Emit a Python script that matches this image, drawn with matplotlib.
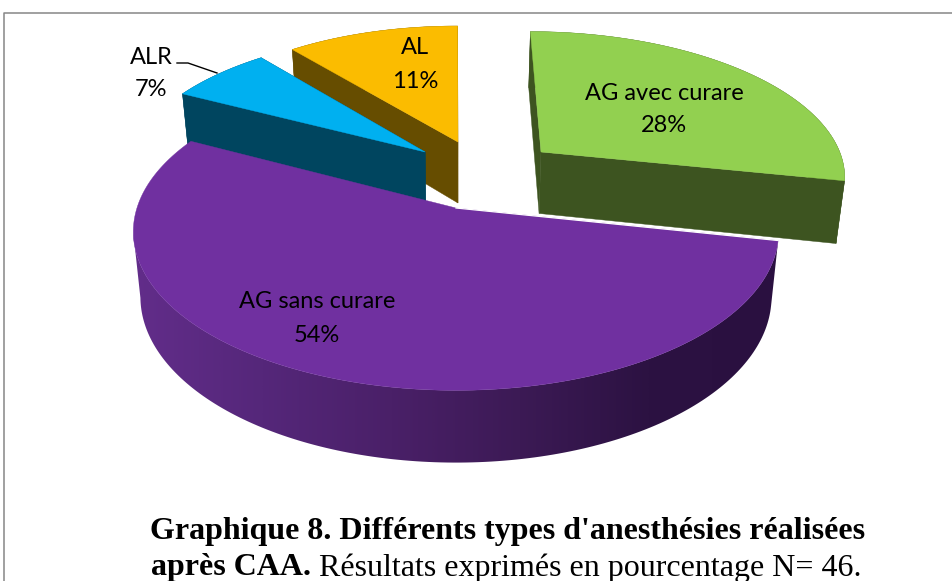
import numpy as np
import matplotlib.pyplot as plt
from matplotlib.colors import LinearSegmentedColormap
from matplotlib.patches import Polygon

labels = ["AG avec curare", "AG sans curare", "ALR", "AL"]
counts = [13, 25, 3, 5]  # N = 46, shown as rounded percentages

top_colors = ["#92d050", "#7030a0", "#00b0f0", "#fbbc00"]
side_colors = ["#3d5420", None, "#00455f", "#664d00"]
purple_wall = ["#622d8a", "#55277a", "#4a2068", "#3c1a55", "#2c1242", "#2a1040"]

# slice offsets in the pie plane (explosion) and slice radius
explode = [(0.285, 0.382), (0.003, 0.0), (-0.099, 0.382), (0.01, 0.455)]
radius = [0.99, 1.0, 0.97, 0.97]
label_pos = [(664, 93), (317, 302), (151, 57), (415, 48)]
draw_order = [3, 2, 0, 1]

# projection of the pie plane to pixels
cx, cy = 455, 208
rx, ry = 319, 155
k = 0.15
dz, dry, sx = 64, 7, 0.978


def project(u, v, bottom=False):
    w = 1 / (1 + k * v)
    if bottom:
        return cx + rx * sx * u * w, cy + dz - (ry + dry) * v * w
    return cx + rx * u * w, cy - ry * v * w


fig = plt.figure(figsize=(9.53, 5.81), dpi=100)
ax = fig.add_axes([0, 0, 1, 1])

# chart frame
ax.plot([4.5, 4.5, 953], [581, 13, 13], color="#868686", lw=1.1)

starts = np.cumsum([0] + counts[:-1]) / sum(counts) * 2 * np.pi
ends = np.cumsum(counts) / sum(counts) * 2 * np.pi

for i in draw_order:
    du, dv = explode[i]
    t = np.linspace(starts[i], ends[i], 200)
    u = du + radius[i] * np.sin(t)
    v = dv + radius[i] * np.cos(t)
    xt, yt = project(u, v)
    xb, yb = project(u, v, bottom=True)
    ax_, ay_ = project(du, dv)
    bx_, by_ = project(du, dv, bottom=True)

    if side_colors[i]:
        ax.fill(np.r_[xt, xb[::-1]], np.r_[yt, yb[::-1]], color=side_colors[i], lw=0.3)
        ax.fill([xt[0], ax_, bx_, xb[0]], [yt[0], ay_, by_, yb[0]], color=side_colors[i], lw=0.3)
        ax.fill([xt[-1], ax_, bx_, xb[-1]], [yt[-1], ay_, by_, yb[-1]], color=side_colors[i], lw=0.3)
    else:
        # purple wall: left to right gradient, only the part up to the left extreme shows
        n = np.argmin(xt) + 1
        cmap = LinearSegmentedColormap.from_list("wall", purple_wall)
        grad = np.linspace(0, 1, 512).reshape(1, -1)
        im = ax.imshow(grad, cmap=cmap, aspect="auto", interpolation="bilinear",
                       extent=[min(xt.min(), xb.min()), max(xt.max(), xb.max()), yb.max(), yt.min()])
        wall = Polygon(np.c_[np.r_[xt[:n], xb[:n][::-1]], np.r_[yt[:n], yb[:n][::-1]]],
                       transform=ax.transData, facecolor="none", edgecolor="none")
        ax.add_patch(wall)
        im.set_clip_path(wall)

    # top surface
    ax.fill(np.r_[ax_, xt], np.r_[ay_, yt], color=top_colors[i], lw=0.3)
    if i == 1:
        ax.plot([ax_, xt[0]], [ay_, yt[0]], color="white", lw=0.9)

for i in range(len(counts)):
    x, y = label_pos[i]
    pct = round(100 * counts[i] / sum(counts))
    ax.text(x, y, labels[i], family="Lato", fontsize=17, ha="center", va="center", color="black")
    ax.text(x, y + 33, f"{pct}%", family="Lato", fontsize=17, ha="center", va="center", color="black")

# leader line for ALR
ax.plot([177, 188, 217], [63, 63, 73], color="black", lw=1)

ax.text(150, 532, "Graphique 8. Différents types d'anesthésies réalisées", family="Liberation Serif",
        fontweight="bold", fontsize=23, ha="left", va="center")
ax.text(151, 568, "après CAA.", family="Liberation Serif", fontweight="bold", fontsize=23, ha="left", va="center")
ax.text(319, 568, "Résultats exprimés en pourcentage N= 46.", family="Liberation Serif",
        fontsize=23, ha="left", va="center")

ax.set_xlim(0, 953)
ax.set_ylim(581, 0)
ax.axis("off")

fig.savefig("out.png", dpi=100)
